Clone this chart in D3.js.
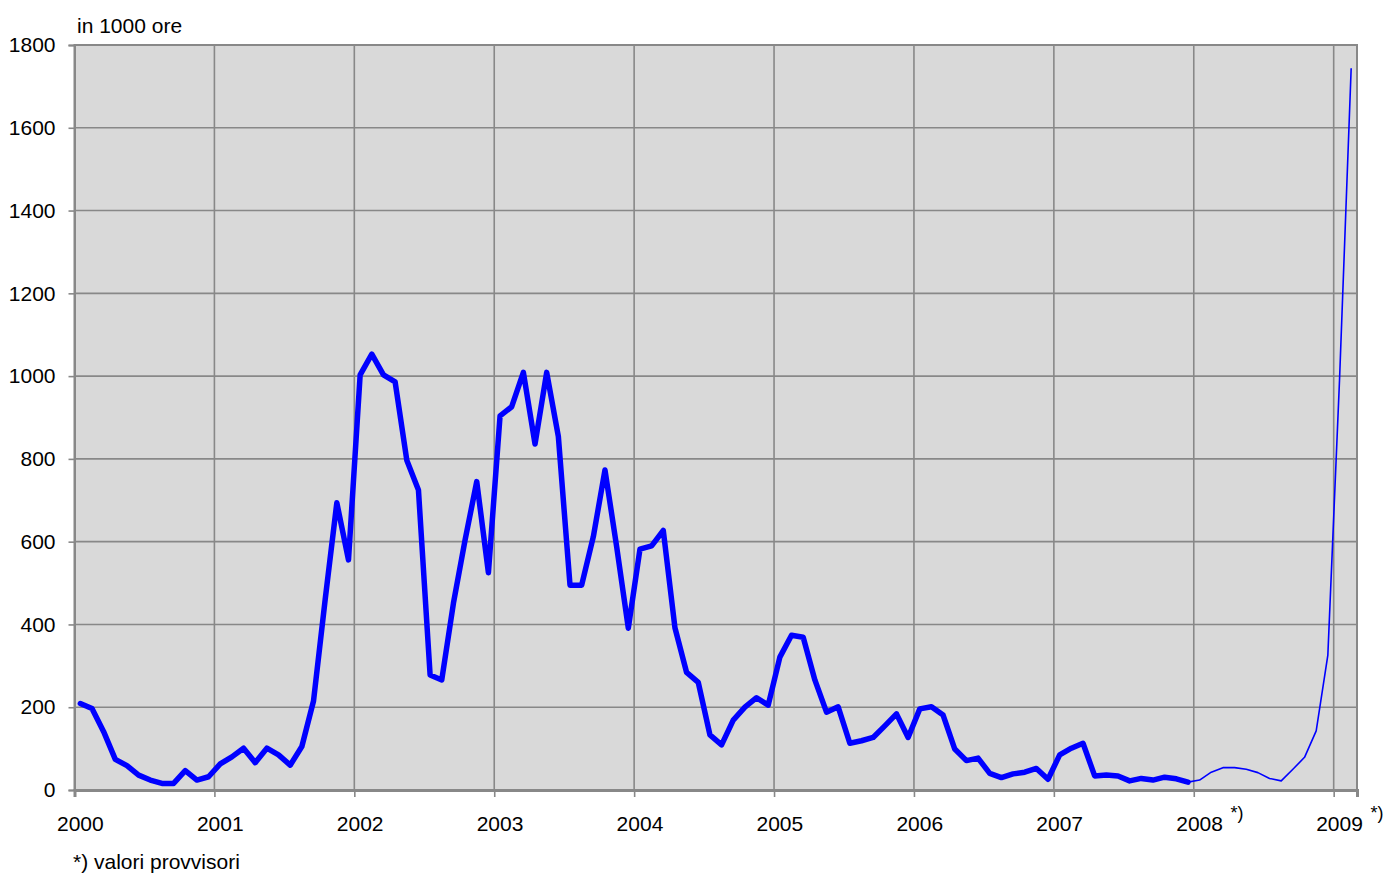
<!DOCTYPE html>
<html>
<head>
<meta charset="utf-8">
<script src="https://cdn.jsdelivr.net/npm/d3@7"></script>
<style>
  body { margin: 0; background: #fff; }
  text { font-family: "Liberation Sans", Arial, sans-serif; fill: #000; }
</style>
</head>
<body>
<div id="chart"></div>
<script>
// monthly values, in 1000 hours, Jan 2000 .. Dec 2007 (final)
const hoursFinal = [
  209, 197, 141, 74, 59, 36, 24, 16, 16, 47, 24, 32,        // 2000
  63, 80, 101, 66, 101, 85, 60, 105, 215, 460, 694, 556,    // 2001
  1003, 1053, 1003, 986, 797, 725, 278, 266, 451, 604, 745, 525, // 2002
  904, 926, 1009, 836, 1009, 854, 495, 495, 612, 773, 588, 391,  // 2003
  582, 590, 627, 392, 284, 260, 133, 109, 169, 200, 223, 205,    // 2004
  321, 374, 369, 266, 188, 201, 113, 119, 127, 155, 184, 127,    // 2005
  196, 201, 181, 99, 71, 77, 40, 30, 39, 43, 52, 26,             // 2006
  85, 101, 113, 34, 36, 34, 22, 28, 24, 31, 27, 19               // 2007
];
// provisional values, Jan 2008 .. Feb 2009
const hoursProvisional = [
  24, 43, 54, 54, 50, 42, 28, 22, 50, 79, 143, 326,  // 2008
  990, 1744                                          // 2009
];
const yearLabels = ["2000", "2001", "2002", "2003", "2004", "2005", "2006", "2007", "2008", "2009"];
const provisionalYears = ["2008", "2009"];
const yTicks = [0, 200, 400, 600, 800, 1000, 1200, 1400, 1600, 1800];

const width = 1391, height = 874;
const plotL = 74.5, plotR = 1357, plotT = 45, plotB = 790;
const fontSize = 21;

const svg = d3.select("#chart").append("svg")
    .attr("width", width)
    .attr("height", height);

// x in months since Jan 2000, plot runs to 1 Mar 2009
const x = d3.scaleLinear().domain([0, 110]).range([plotL, plotR]);
const y = d3.scaleLinear().domain([0, 1800]).range([plotB, plotT]);

// plot background
svg.append("rect")
    .attr("x", plotL).attr("y", plotT)
    .attr("width", plotR - plotL).attr("height", plotB - plotT)
    .attr("fill", "#d9d9d9");

// horizontal grid
svg.append("g")
    .selectAll("line")
    .data(yTicks.slice(1))
    .join("line")
    .attr("x1", plotL).attr("x2", plotR)
    .attr("y1", d => y(d)).attr("y2", d => y(d))
    .attr("stroke", "#888").attr("stroke-width", 1.6);

// vertical grid, one per year
svg.append("g")
    .selectAll("line")
    .data(yearLabels.slice(1))
    .join("line")
    .attr("x1", (d, i) => x((i + 1) * 12)).attr("x2", (d, i) => x((i + 1) * 12))
    .attr("y1", plotT).attr("y2", plotB)
    .attr("stroke", "#888").attr("stroke-width", 1.6);

// plot frame
svg.append("rect")
    .attr("x", plotL).attr("y", plotT)
    .attr("width", plotR - plotL).attr("height", plotB - plotT)
    .attr("fill", "none")
    .attr("stroke", "#888").attr("stroke-width", 2);

// y axis
const yAxis = svg.append("g")
    .attr("transform", `translate(${plotL},0)`)
    .call(d3.axisLeft(y).tickValues(yTicks).tickSize(6).tickPadding(13).tickFormat(d3.format("d")));
yAxis.select(".domain").attr("stroke", "#888").attr("stroke-width", 2);
yAxis.selectAll(".tick line").attr("stroke", "#888").attr("stroke-width", 1.6);
yAxis.selectAll(".tick text")
    .attr("font-size", fontSize)
    .attr("font-family", "Liberation Sans, Arial, sans-serif");

// x axis: ticks at the start of each year, labels centred on January
const xAxis = svg.append("g")
    .attr("transform", `translate(0,${plotB})`)
    .call(d3.axisBottom(x).tickValues(yearLabels.map((d, i) => i * 12)).tickSize(7).tickFormat(""));
xAxis.select(".domain").attr("stroke", "#888").attr("stroke-width", 3);
xAxis.selectAll(".tick line").attr("stroke", "#888").attr("stroke-width", 1.6);

const xLabels = svg.append("g");
xLabels.selectAll("text.year")
    .data(yearLabels)
    .join("text")
    .attr("class", "year")
    .attr("x", (d, i) => x(i * 12 + 0.5))
    .attr("y", 831)
    .attr("text-anchor", "middle")
    .attr("font-size", fontSize)
    .text(d => d);

xLabels.selectAll("text.star")
    .data(provisionalYears)
    .join("text")
    .attr("class", "star")
    .attr("x", d => x(yearLabels.indexOf(d) * 12 + 0.5) + 31)
    .attr("y", 819)
    .attr("font-size", 18)
    .text("*)");

// series lines
const line = d3.line()
    .x(d => x(d.m + 0.5))
    .y(d => y(d.v));

const finalPts = hoursFinal.map((v, i) => ({ m: i, v }));
const provPts = [finalPts[finalPts.length - 1]]
    .concat(hoursProvisional.map((v, i) => ({ m: hoursFinal.length + i, v })));

svg.append("path")
    .datum(provPts)
    .attr("fill", "none")
    .attr("stroke", "#0000ff")
    .attr("stroke-width", 1.6)
    .attr("stroke-linejoin", "round")
    .attr("d", line);

svg.append("path")
    .datum(finalPts)
    .attr("fill", "none")
    .attr("stroke", "#0000ff")
    .attr("stroke-width", 5.5)
    .attr("stroke-linejoin", "round")
    .attr("stroke-linecap", "round")
    .attr("d", line);

// titles
svg.append("text")
    .attr("x", 77)
    .attr("y", 33)
    .attr("font-size", fontSize)
    .text("in 1000 ore");

svg.append("text")
    .attr("x", 73)
    .attr("y", 869)
    .attr("font-size", fontSize)
    .text("*) valori provvisori");
</script>
</body>
</html>
